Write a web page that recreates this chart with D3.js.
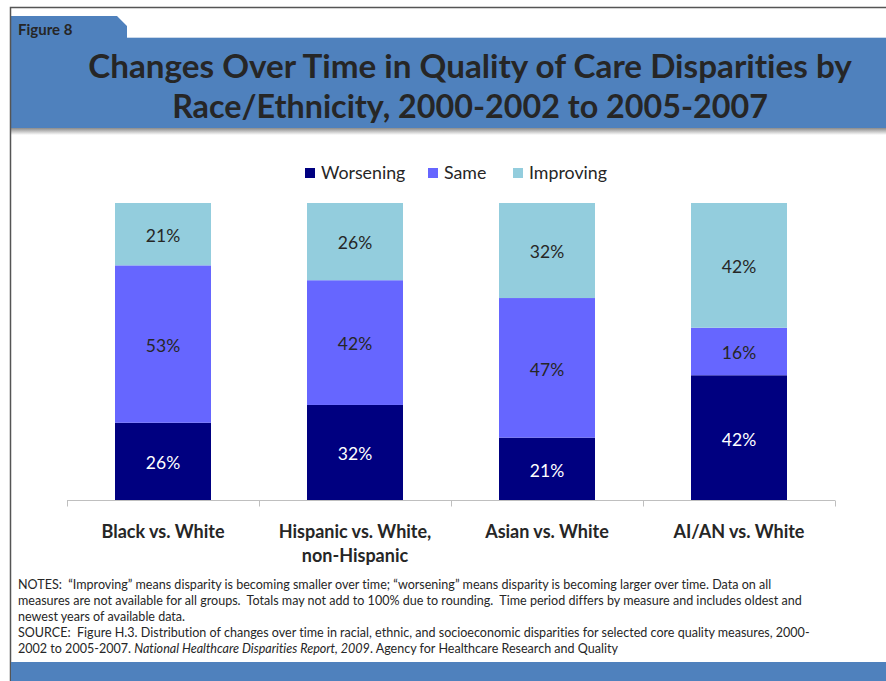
<!DOCTYPE html>
<html>
<head>
<meta charset="utf-8">
<script src="https://cdn.jsdelivr.net/npm/d3@7/dist/d3.min.js"></script>
<style>
  html, body { margin: 0; padding: 0; background: #fff; }
  svg { display: block; font-variant-ligatures: none; }
  svg text { white-space: pre; }
</style>
</head>
<body>
<script>
// Chart data
const categories = ["Black vs. White", "Hispanic vs. White, non-Hispanic", "Asian vs. White", "AI/AN vs. White"];
const categoryLines = [["Black vs. White"], ["Hispanic vs. White,", "non-Hispanic"], ["Asian vs. White"], ["AI/AN vs. White"]];
const seriesNames = ["Worsening", "Same", "Improving"];
const worsening = [26, 32, 21, 42];
const same = [53, 42, 47, 16];
const improving = [21, 26, 32, 42];
const seriesColors = ["#000080", "#6666FF", "#93CDDD"];
const labelColors = ["#ffffff", "#262626", "#262626"];

const titleLines = ["Changes Over Time in Quality of Care Disparities by", "Race/Ethnicity, 2000-2002 to 2005-2007"];
const notesLines = [
  "NOTES:  \u201cImproving\u201d means disparity is becoming smaller over time; \u201cworsening\u201d means disparity is becoming larger over time. Data on all",
  "measures are not available for all groups.  Totals may not add to 100% due to rounding.  Time period differs by measure and includes oldest and",
  "newest years of available data."
];

const W = 886, H = 681;
const FONT = "Lato, 'Open Sans', sans-serif";
const BLUE = "#4F81BD";

const svg = d3.select("body").append("svg").attr("width", W).attr("height", H)
  .style("font-family", FONT);

// Banner shadow
const defs = svg.append("defs");
const sh = defs.append("linearGradient").attr("id", "shadow").attr("x1", 0).attr("x2", 0).attr("y1", 0).attr("y2", 1);
sh.append("stop").attr("offset", 0).attr("stop-color", "#8a8a8a");
sh.append("stop").attr("offset", 1).attr("stop-color", "#ffffff");
svg.append("rect").attr("x", 11).attr("y", 128).attr("width", W - 11).attr("height", 7).attr("fill", "url(#shadow)");

// Tab + banner
svg.append("path")
  .attr("d", `M11,16 L117,16 L127,26 L127,37 L${W},37 L${W},128 L11,128 Z`)
  .attr("fill", BLUE);
svg.append("line").attr("x1", 127).attr("x2", W).attr("y1", 37.5).attr("y2", 37.5)
  .attr("stroke", "#c9d8ea").attr("stroke-width", 1);

svg.append("text").attr("x", 18).attr("y", 35).text("Figure 8")
  .attr("font-size", 15).attr("font-weight", 700).attr("fill", "#262626");

// Title, sized to its line widths
const titleTargets = [764, 596];
titleLines.forEach((t, i) => {
  const el = svg.append("text").attr("x", 470).attr("y", 78 + i * 40)
    .attr("text-anchor", "middle").attr("font-size", 32).attr("font-weight", 700)
    .attr("fill", "#262626").text(t);
  const w = el.node().getComputedTextLength();
  el.attr("font-size", 32 * titleTargets[i] / w);
});

// Outer frame
svg.append("path").attr("d", `M10.5,${H} L10.5,7.5 L${W},7.5`)
  .attr("fill", "none").attr("stroke", "#555").attr("stroke-width", 1.5);

// Bottom bar
svg.append("rect").attr("x", 11).attr("y", 662).attr("width", W - 11).attr("height", H - 662).attr("fill", BLUE);

// Scales
const x = d3.scaleBand().domain(categories).range([67, 835]).paddingInner(0.5).paddingOuter(0.25);
const y = d3.scaleLinear().domain([0, 100]).range([500, 203]);

const rows = categories.map((c, i) => ({ cat: c, Worsening: worsening[i], Same: same[i], Improving: improving[i] }));
const stack = d3.stack().keys(seriesNames)(rows);

const g = svg.append("g");
stack.forEach((layer, si) => {
  const lg = g.append("g");
  lg.selectAll("rect").data(layer).join("rect")
    .attr("x", d => x(d.data.cat))
    .attr("width", x.bandwidth())
    .attr("y", d => y(d[1]))
    .attr("height", d => y(d[0]) - y(d[1]))
    .attr("fill", seriesColors[si]);
  lg.selectAll("text").data(layer).join("text")
    .attr("x", d => x(d.data.cat) + x.bandwidth() / 2)
    .attr("y", d => (y(d[0]) + y(d[1])) / 2)
    .attr("dy", "0.45em")
    .attr("text-anchor", "middle")
    .attr("font-size", 17.5)
    .attr("fill", labelColors[si])
    .text(d => (d[1] - d[0]) + "%");
});

// Category axis
const xOuter = d3.scaleBand().domain(categories).range([67, 835]);
const ax = svg.append("g").attr("transform", "translate(0,500.5)");
ax.append("line").attr("x1", 67).attr("x2", 835).attr("stroke", "#BFBFBF");
ax.selectAll("line.tick").data(d3.range(categories.length + 1)).join("line").attr("class", "tick")
  .attr("x1", i => 67.5 + i * xOuter.step()).attr("x2", i => 67.5 + i * xOuter.step())
  .attr("y1", 0).attr("y2", 6).attr("stroke", "#BFBFBF");
categories.forEach((c, i) => {
  const t = svg.append("text").attr("text-anchor", "middle")
    .attr("font-size", 18).attr("font-weight", 700).attr("fill", "#262626");
  categoryLines[i].forEach((ln, j) => {
    t.append("tspan").attr("x", xOuter(c) + xOuter.bandwidth() / 2).attr("y", 538 + j * 24).text(ln);
  });
});

// Legend
const legendX = [305, 428, 513];
seriesNames.forEach((s, i) => {
  svg.append("rect").attr("x", legendX[i]).attr("y", 168).attr("width", 10).attr("height", 10).attr("fill", seriesColors[i]);
  svg.append("text").attr("x", legendX[i] + 16).attr("y", 179).attr("font-size", 17.8)
    .attr("fill", "#262626").text(s);
});

// Notes and source
const notes = svg.append("g").attr("font-size", 12.55).attr("fill", "#262626");
notesLines.forEach((ln, i) => {
  notes.append("text").attr("x", 18).attr("y", 589 + i * 16).text(ln);
});
const src1 = notes.append("text").attr("x", 18).attr("y", 637);
src1.text("SOURCE:  Figure H.3. Distribution of changes over time in racial, ethnic, and socioeconomic disparities for selected core quality measures, 2000-");
const src2 = notes.append("text").attr("x", 18).attr("y", 653);
src2.append("tspan").text("2002 to 2005-2007. ");
src2.append("tspan").attr("font-style", "italic").text("National Healthcare Disparities Report, 2009");
src2.append("tspan").text(". Agency for Healthcare Research and Quality");
</script>
</body>
</html>
